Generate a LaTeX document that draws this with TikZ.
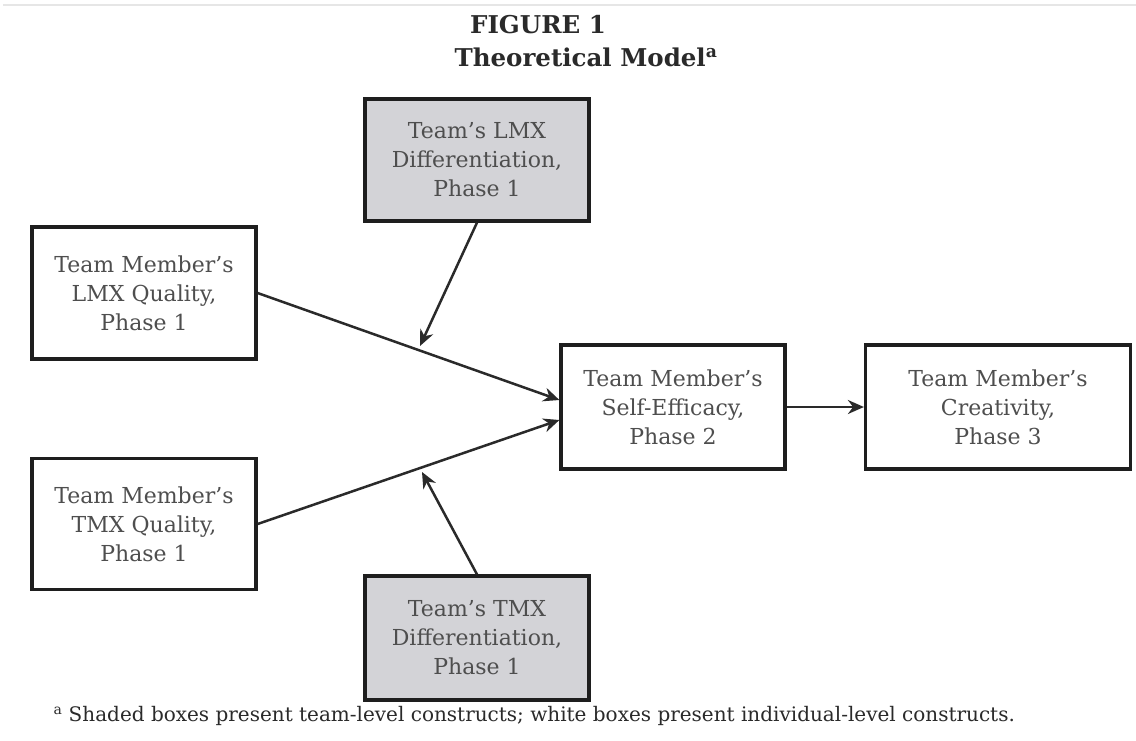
\documentclass[tikz,border=0pt]{standalone}
\usepackage{fontspec}
\setmainfont{DejaVu Serif}
\usetikzlibrary{arrows.meta}
\definecolor{boxline}{HTML}{1E1E1E}
\definecolor{boxtext}{HTML}{4E4E4E}
\definecolor{shade}{HTML}{D3D3D7}
\definecolor{ink}{HTML}{2A2A2A}
\definecolor{rule}{HTML}{E6E6E6}
\begin{document}
\begin{tikzpicture}[x=1pt,y=-1pt,
  construct/.style={draw=boxline, line width=3.2pt, fill=white,
    minimum width=224pt, minimum height=124pt, inner sep=0pt,
    align=center, text=boxtext,
    font=\fontsize{22}{29}\selectfont},
  teambox/.style={construct, fill=shade},
  link/.style={draw=ink, line width=2.5pt,
    -{Stealth[length=16pt,width=14pt]}},
  heading/.style={text=ink, font=\bfseries\fontsize{24.5}{30}\selectfont}
]
\useasboundingbox (0,0) rectangle (1136,740);
\fill[white] (0,0) rectangle (1136,740);
\draw[rule, line width=2pt] (3,5) -- (1136,5);

% heading
\node[heading] (fig) at (538,25) {FIGURE 1};
\node[heading] (ttl) at (586,57) {Theoretical Model\textsuperscript{a}};

% constructs
\node[teambox, minimum height=122pt] (lmxd) at (477,160) {Team's LMX\\Differentiation,\\Phase 1};
\node[construct, minimum height=132pt] (lmx) at (144,293) {Team Member's\\LMX Quality,\\Phase 1};
\node[construct, minimum height=131pt] (tmx) at (144,524) {Team Member's\\TMX Quality,\\Phase 1};
\node[teambox] (tmxd) at (477,638) {Team's TMX\\Differentiation,\\Phase 1};
\node[construct] (self) at (673,407) {Team Member's\\Self-Efficacy,\\Phase 2};
\node[construct, minimum width=265pt] (crea) at (998,407) {Team Member's\\Creativity,\\Phase 3};

% moderation targets on the main paths
\coordinate (m1) at (420,346);
\coordinate (m2) at (422,472);

% paths
\draw[link] (lmx.east) -- ([yshift=7pt]self.west);
\draw[link] (tmx.east) -- ([yshift=-13pt]self.west);
\draw[link] (lmxd.south) -- (m1);
\draw[link] (tmxd.north) -- (m2);
\draw[link] (self.east) -- (crea.west);

% note
\node[text=ink, anchor=west, font=\fontsize{20}{24}\selectfont] (note) at (50,716)
  {\textsuperscript{a} Shaded boxes present team-level constructs; white boxes present individual-level constructs.};
\end{tikzpicture}
\end{document}
